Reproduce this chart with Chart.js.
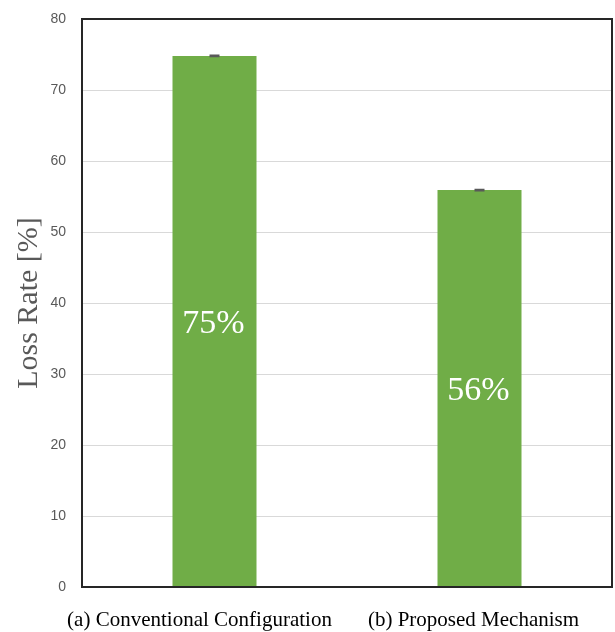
<!DOCTYPE html>
<html>
<head>
<meta charset="utf-8">
<script src="https://cdn.jsdelivr.net/npm/chart.js@4.4.1/dist/chart.umd.min.js"></script>
<style>
  html, body { margin: 0; padding: 0; background: #fff; }
  #wrap { width: 615px; height: 632px; }
</style>
</head>
<body>
<div id="wrap"><canvas id="c" width="615" height="632"></canvas></div>
<script>
// Loss rate per configuration
const categories = ['(a) Conventional Configuration', '(b) Proposed Mechanism'];
const lossRate = [74.8, 55.9];
const lossError = [0.05, 0.05];
const yTicks = [0, 10, 20, 30, 40, 50, 60, 70, 80];

const serif = '"Liberation Serif", "Times New Roman", serif';
const sans = '"Liberation Sans", Arial, sans-serif';

// Category captions sit slightly left of their bars
const captionShift = [-15, -6];

// Error bar caps, value labels, captions and the plot frame
const barDecor = {
  id: 'barDecor',
  afterDatasetsDraw(chart) {
    const ctx = chart.ctx;
    const meta = chart.getDatasetMeta(0);
    const y = chart.scales.y;
    const a = chart.chartArea;
    ctx.save();
    meta.data.forEach((bar, i) => {
      const v = lossRate[i];
      const e = lossError[i];
      // error bar
      ctx.strokeStyle = '#595959';
      ctx.lineWidth = 2;
      ctx.beginPath();
      ctx.moveTo(bar.x, y.getPixelForValue(v + e));
      ctx.lineTo(bar.x, y.getPixelForValue(v - e));
      ctx.moveTo(bar.x - 5, y.getPixelForValue(v + e));
      ctx.lineTo(bar.x + 5, y.getPixelForValue(v + e));
      ctx.moveTo(bar.x - 5, y.getPixelForValue(v - e));
      ctx.lineTo(bar.x + 5, y.getPixelForValue(v - e));
      ctx.stroke();
      // value label, centred in the bar
      ctx.fillStyle = '#ffffff';
      ctx.font = '34px ' + serif;
      ctx.textAlign = 'center';
      ctx.textBaseline = 'middle';
      ctx.fillText(Math.round(v) + '%', bar.x - 1, y.getPixelForValue(v / 2) + 3);
      // category caption
      ctx.fillStyle = '#000000';
      ctx.font = '21px ' + serif;
      ctx.fillText(categories[i], bar.x + captionShift[i], a.bottom + 33);
    });
    // plot frame
    ctx.strokeStyle = '#262626';
    ctx.lineWidth = 2;
    ctx.strokeRect(a.left, a.top, a.right - a.left, a.bottom - a.top);
    ctx.restore();
  }
};

new Chart(document.getElementById('c'), {
  type: 'bar',
  data: {
    labels: categories,
    datasets: [{
      data: lossRate,
      backgroundColor: '#70AD47',
      borderWidth: 0,
      categoryPercentage: 1,
      barPercentage: 0.317
    }]
  },
  options: {
    responsive: false,
    animation: false,
    devicePixelRatio: 1,
    layout: { padding: { top: 19, right: 3, left: 0, bottom: 0 } },
    plugins: { legend: { display: false }, tooltip: { enabled: false } },
    scales: {
      x: {
        grid: { display: false, drawTicks: false },
        border: { display: false },
        ticks: { display: false },
        afterFit(s) { s.height = 45; }
      },
      y: {
        min: 0,
        max: 80,
        afterBuildTicks(s) { s.ticks = yTicks.map(v => ({ value: v })); },
        grid: { color: '#d9d9d9', lineWidth: 1, drawTicks: false },
        border: { display: false },
        ticks: {
          color: '#595959',
          font: { family: sans, size: 14 },
          padding: 16
        },
        title: {
          display: true,
          text: 'Loss Rate [%]',
          color: '#595959',
          font: { family: serif, size: 30 },
          padding: { top: 11, bottom: 0 }
        },
        afterFit(s) {
          s.width = 82;
          s.paddingTop = 0;
          s.paddingBottom = 0;
        }
      }
    }
  },
  plugins: [barDecor]
});
</script>
</body>
</html>
